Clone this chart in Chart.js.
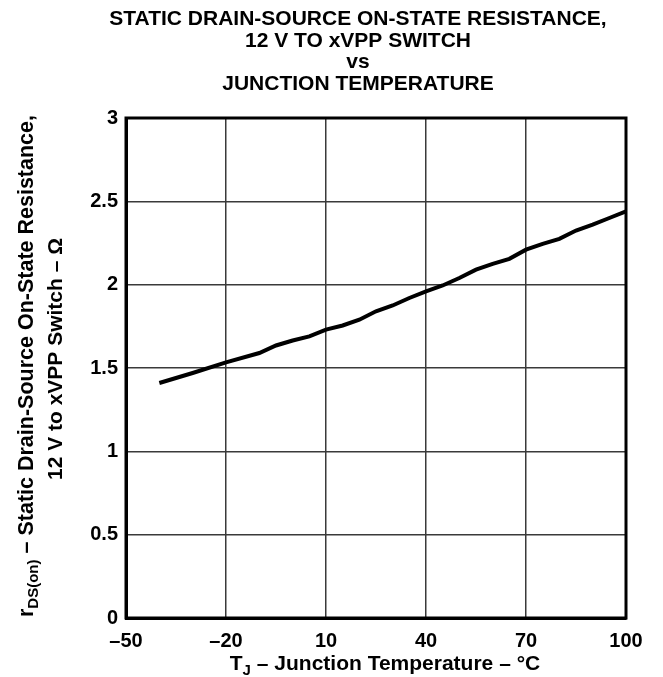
<!DOCTYPE html>
<html>
<head>
<meta charset="utf-8">
<script src="https://cdn.jsdelivr.net/npm/chart.js@4"></script>
<style>
  html, body { margin: 0; padding: 0; background: #fff; }
  canvas { display: block; }
</style>
</head>
<body>
<canvas id="myChart" width="663" height="677"></canvas>
<script>
// junction temperature (°C) and rDS(on) (ohm)
const temps = [-40, -30, -20, -10, -5, 0, 5, 10, 15, 20, 25, 30, 35, 40, 45, 50, 55, 60, 65, 70, 75, 80, 85, 90, 95, 100];
const resistance = [1.41, 1.47, 1.534, 1.59, 1.635, 1.665, 1.69, 1.73, 1.755, 1.79, 1.84, 1.875, 1.92, 1.96, 1.995, 2.04, 2.09, 2.125, 2.155, 2.21, 2.245, 2.275, 2.325, 2.36, 2.40, 2.44];

const xTicks = [-50, -20, 10, 40, 70, 100];
const yTicks = [0, 0.5, 1, 1.5, 2, 2.5, 3];

const titleLines = ['STATIC DRAIN-SOURCE ON-STATE RESISTANCE,', '12 V TO xVPP SWITCH', 'vs', 'JUNCTION TEMPERATURE'];

const FAMILY = '"Liberation Sans", Arial, Helvetica, sans-serif';

function fnt(size) {
    return 'bold ' + size + 'px ' + FAMILY;
}

// draw text made of parts, some of them subscript, centred on x
function drawRich(c, parts, x, y, size) {
    const subSize = Math.round(size * 0.72);
    let w = 0;
    parts.forEach(p => {
        c.font = fnt(p.sub ? subSize : size);
        w += c.measureText(p.t).width;
    });
    let cx = x - w / 2;
    c.textAlign = 'left';
    c.textBaseline = 'alphabetic';
    parts.forEach(p => {
        c.font = fnt(p.sub ? subSize : size);
        c.fillText(p.t, cx, y + (p.sub ? size * 0.24 : 0));
        cx += c.measureText(p.t).width;
    });
}

const textPlugin = {
    id: 'texts',
    afterDraw(chart) {
        const c = chart.ctx;
        const a = chart.chartArea;
        c.save();
        // frame
        c.strokeStyle = '#000';
        c.lineWidth = 3;
        c.strokeRect(a.left, a.top, a.right - a.left, a.bottom - a.top);

        c.fillStyle = '#000';
        const baselines = [25, 47, 68, 90];
        titleLines.forEach((t, i) => drawRich(c, [{t: t}], 358, baselines[i], 21));

        // x axis title
        drawRich(c, [{t: 'T'}, {t: 'J', sub: true}, {t: ' \u2013 Junction Temperature \u2013 \u00B0C'}], 385, 670, 21);

        // y axis title
        c.save();
        c.translate(33, 366);
        c.rotate(-Math.PI / 2);
        drawRich(c, [{t: 'r'}, {t: 'DS(on)', sub: true}, {t: ' \u2013 Static Drain-Source On-State Resistance,'}], 0, 0, 21.5);
        c.restore();
        c.save();
        c.translate(62, 359);
        c.rotate(-Math.PI / 2);
        drawRich(c, [{t: '12 V to xVPP Switch \u2013 \u03A9'}], 0, 0, 21);
        c.restore();
        c.restore();
    }
};

const ctx = document.getElementById('myChart').getContext('2d');

const graph = {
    type: 'scatter',
    data: {
        datasets: [{
            data: temps.map((t, i) => ({x: t, y: resistance[i]})),
            showLine: true,
            borderColor: '#000',
            backgroundColor: '#000',
            borderWidth: 4,
            pointRadius: 0,
            tension: 0
        }]
    },
    options: {
        responsive: false,
        animation: false,
        devicePixelRatio: 1,
        layout: {padding: {top: 118, right: 37, left: 0, bottom: 0}},
        plugins: {legend: {display: false}, title: {display: false}, tooltip: {enabled: false}},
        scales: {
            x: {
                type: 'linear',
                min: -50,
                max: 100,
                afterBuildTicks: s => { s.ticks = xTicks.map(v => ({value: v})); },
                afterFit: s => { s.height = 59; },
                ticks: {
                    color: '#000',
                    padding: 11,
                    maxRotation: 0,
                    autoSkip: false,
                    font: {family: FAMILY, size: 20, weight: 'bold'},
                    callback: v => v < 0 ? '\u2013' + Math.abs(v) : String(v)
                },
                grid: {color: '#3a3a3a', lineWidth: 1.5, drawTicks: false},
                border: {color: '#000', width: 3}
            },
            y: {
                min: 0,
                max: 3,
                afterBuildTicks: s => { s.ticks = yTicks.map(v => ({value: v})); },
                afterFit: s => { s.width = 126; },
                ticks: {
                    color: '#000',
                    padding: 8,
                    autoSkip: false,
                    font: {family: FAMILY, size: 20, weight: 'bold'},
                    callback: v => String(v)
                },
                grid: {color: '#3a3a3a', lineWidth: 1.5, drawTicks: false},
                border: {color: '#000', width: 3}
            }
        }
    },
    plugins: [textPlugin]
};

const myChart = new Chart(ctx, graph);
</script>
</body>
</html>
